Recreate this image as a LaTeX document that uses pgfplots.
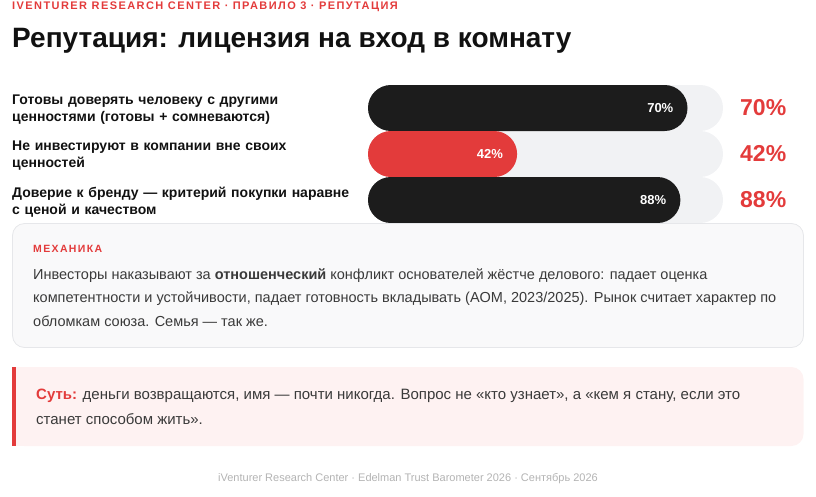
\documentclass[border=0pt]{standalone}
\usepackage{fontspec}
\setmainfont{Liberation Sans}
\newfontfamily\spacedfont[LetterSpace=13]{Liberation Sans}
\usepackage{pgfplots}
\pgfplotsset{compat=1.18}

\definecolor{accent}{HTML}{E33B3B}
\definecolor{barblack}{HTML}{1C1C1C}
\definecolor{track}{HTML}{F1F2F4}
\definecolor{inktitle}{HTML}{111111}
\definecolor{inkbody}{HTML}{3A3A3A}
\definecolor{mechfill}{HTML}{F9F9FA}
\definecolor{mechline}{HTML}{E6E7EA}
\definecolor{sutfill}{HTML}{FEF2F2}
\definecolor{footgray}{HTML}{B3B3B3}

\pgfplotsset{
  pill/.style={xbar, bar width=46pt, bar shift=0pt, draw=none,
    rounded corners=22.9pt, point meta=explicit symbolic,
    nodes near coords={\pgfplotspointmeta\%}},
}

\begin{document}
\begin{tikzpicture}
\useasboundingbox (0pt,0pt) rectangle (816pt,-496pt);

\begin{axis}[
  at={(368pt,-85pt)}, anchor=north west,
  scale only axis, width=355pt, height=138pt,
  xmin=0, xmax=100, ymin=0.5, ymax=3.5, y dir=reverse,
  clip=false,
  axis line style={draw=none},
  xtick=\empty, ytick={1,2,3}, major tick length=0pt,
  yticklabels={
    {Готовы доверять человеку с другими\\ценностями (готовы + сомневаются)},
    {Не инвестируют в компании вне своих\\ценностей},
    {Доверие к бренду — критерий покупки наравне\\с ценой и качеством}},
  yticklabel style={anchor=west, xshift=-356pt, yshift=-2pt, text width=350pt,
    align=left, inner sep=0pt, text=inktitle,
    font=\bfseries\fontsize{14}{17}\selectfont},
]
% grey track, full scale, with the big red value on its right
\addplot[pill, fill=track,
  every node near coord/.append style={anchor=west, xshift=17pt,
    inner sep=0pt, text=accent, font=\bfseries\fontsize{23}{25}\selectfont}]
  coordinates {(100,1) [70] (100,2) [42] (100,3) [88]};
% filled bars (first one reaches ~90% of the track in the reference)
\addplot[pill, fill=barblack,
  every node near coord/.append style={anchor=east, xshift=-14pt,
    inner sep=0pt, text=white, font=\bfseries\fontsize{13}{15}\selectfont}]
  coordinates {(90,1) [70]};
\addplot[pill, fill=accent,
  every node near coord/.append style={anchor=east, xshift=-14pt,
    inner sep=0pt, text=white, font=\bfseries\fontsize{13}{15}\selectfont}]
  coordinates {(42,2) [42]};
\addplot[pill, fill=barblack,
  every node near coord/.append style={anchor=east, xshift=-14pt,
    inner sep=0pt, text=white, font=\bfseries\fontsize{13}{15}\selectfont}]
  coordinates {(88,3) [88]};
\end{axis}

\begin{scope}[x=1pt,y=-1pt]
% header + title
\node[anchor=base west, inner sep=0, text=accent,
  font=\spacedfont\bfseries\fontsize{11}{13}\selectfont] at (12,9)
  {IVENTURER RESEARCH CENTER · ПРАВИЛО 3 · РЕПУТАЦИЯ};
\node[anchor=base west, inner sep=0, text=inktitle,
  font=\bfseries\fontsize{28}{30}\selectfont] at (12,47)
  {Репутация: лицензия на вход в комнату};

% mechanics card
\draw[fill=mechfill, draw=mechline, line width=0.8pt, rounded corners=12pt]
  (12.5,223.5) rectangle (803.5,347.5);
\node[anchor=base west, inner sep=0, text=accent,
  font=\spacedfont\bfseries\fontsize{10.5}{12}\selectfont] at (33,252) {МЕХАНИКА};
\begin{scope}[every node/.style={anchor=base west, inner sep=0, text=inkbody,
    font=\fontsize{14.5}{17}\selectfont}]
\node at (33,279) {Инвесторы наказывают за \textbf{отношенческий} конфликт основателей жёстче делового: падает оценка};
\node at (33,302.5) {компетентности и устойчивости, падает готовность вкладывать (AOM, 2023/2025). Рынок считает характер по};
\node at (33,326) {обломкам союза. Семья — так же.};
\end{scope}

% summary card
\fill[sutfill, rounded corners=12pt] (12,367) rectangle (803.5,446);
\fill[sutfill] (12,367) rectangle (30,446);
\fill[accent] (12,367) rectangle (15.5,446);
\begin{scope}[every node/.style={anchor=base west, inner sep=0, text=inkbody,
    font=\fontsize{15}{17}\selectfont}]
\node at (36,399) {\textcolor{accent}{\textbf{Суть:}} деньги возвращаются, имя — почти никогда. Вопрос не «кто узнает», а «кем я стану, если это};
\node at (36,424) {станет способом жить».};
\end{scope}

% footer
\node[anchor=base, inner sep=0, text=footgray, font=\fontsize{11}{12}\selectfont]
  at (408,481) {iVenturer Research Center · Edelman Trust Barometer 2026 · Сентябрь 2026};
\end{scope}
\end{tikzpicture}
\end{document}
